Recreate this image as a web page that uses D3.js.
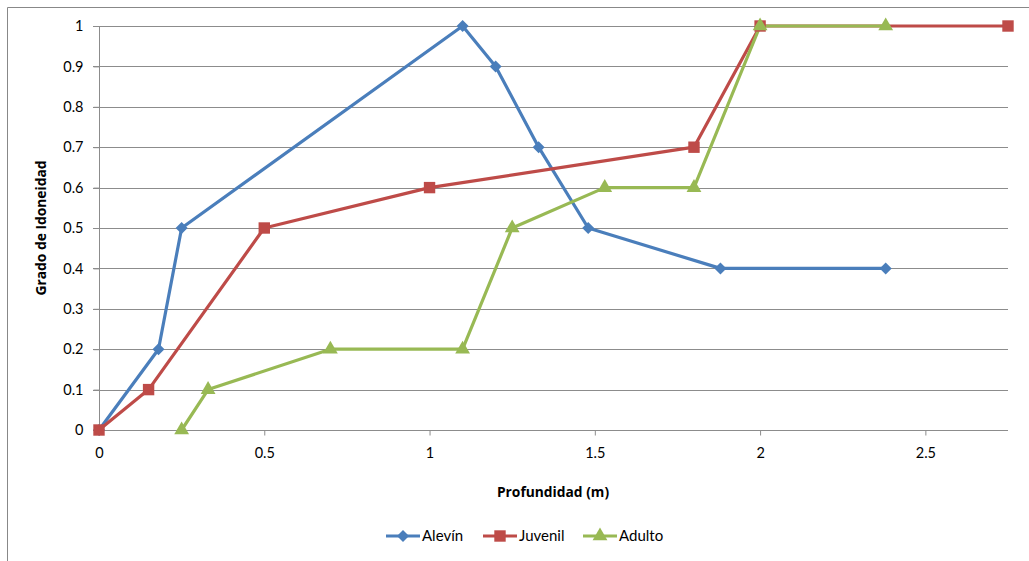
<!DOCTYPE html>
<html><head><meta charset="utf-8">
<script src="https://cdn.jsdelivr.net/npm/d3@7/dist/d3.min.js"></script>
<style>body{margin:0;background:#fff}svg{display:block;font-family:Lato,"Open Sans",sans-serif}</style>
</head><body><svg id="c" width="1029" height="561"></svg>
<script>
const xTicks=[0,0.5,1,1.5,2,2.5];
const yTicks=[0,0.1,0.2,0.3,0.4,0.5,0.6,0.7,0.8,0.9,1];
const seriesNames=["Alevín","Juvenil","Adulto"];
const alevinX=[0,0.18,0.25,1.1,1.2,1.33,1.48,1.88,2.38];
const alevinY=[0,0.2,0.5,1,0.9,0.7,0.5,0.4,0.4];
const juvenilX=[0,0.15,0.5,1,1.8,2,2.75];
const juvenilY=[0,0.1,0.5,0.6,0.7,1,1];
const adultoX=[0.25,0.33,0.7,1.1,1.25,1.53,1.8,2,2.38];
const adultoY=[0,0.1,0.2,0.2,0.5,0.6,0.6,1,1];
const colors=["#4A7EBB","#BE4B48","#98B954"];

const diamond={draw(ctx,size){const r=Math.sqrt(size/2);ctx.moveTo(0,-r);ctx.lineTo(r,0);ctx.lineTo(0,r);ctx.lineTo(-r,0);ctx.closePath();}};
const symbols=[diamond,d3.symbolSquare,d3.symbolTriangle];
const symSizes=[72,130,95];

const svg=d3.select("#c");
svg.append("path").attr("d","M7.5,561V7.5H1029").attr("fill","none").attr("stroke","#888").attr("stroke-width",1);
const x=d3.scaleLinear().domain([0,2.75]).range([99,1008]);
const y=d3.scaleLinear().domain([0,1]).range([430,26]);

svg.append("g").selectAll("line").data(yTicks.slice(1)).join("line")
 .attr("x1",93).attr("x2",1008).attr("y1",d=>Math.round(y(d))+0.5).attr("y2",d=>Math.round(y(d))+0.5)
 .attr("stroke","#8c8c8c").attr("stroke-width",1);
const ya=svg.append("g").attr("transform","translate(99.5,0)")
 .call(d3.axisLeft(y).tickValues(yTicks).tickFormat(d3.format("")).tickSize(6).tickPadding(10));
ya.select(".domain").attr("stroke","#8c8c8c").attr("d","M0,26.5V430");
ya.selectAll(".tick line").attr("stroke","#8c8c8c");
ya.selectAll("text").attr("font-size",14.5).attr("fill","#000").attr("font-family","Lato,'Open Sans',sans-serif");
const xa=svg.append("g").attr("transform","translate(0,430.5)")
 .call(d3.axisBottom(x).tickValues(xTicks).tickFormat(d3.format("")).tickSize(5).tickPadding(12));
xa.select(".domain").attr("stroke","#8c8c8c").attr("d","M93,0H1008");
xa.selectAll(".tick line").attr("stroke","#8c8c8c");
xa.selectAll("text").attr("font-size",14.5).attr("fill","#000").attr("font-family","Lato,'Open Sans',sans-serif");

const data=[d3.zip(alevinX,alevinY),d3.zip(juvenilX,juvenilY),d3.zip(adultoX,adultoY)];
const line=d3.line().x(d=>x(d[0])).y(d=>y(d[1]));
data.forEach((s,i)=>{
  svg.append("path").attr("d",line(s)).attr("fill","none").attr("stroke",colors[i]).attr("stroke-width",3.2).attr("stroke-linejoin","round");
});
data.forEach((s,i)=>{
  svg.selectAll(null).data(s).join("path")
   .attr("transform",d=>`translate(${x(d[0])},${y(d[1])})`)
   .attr("d",d3.symbol(symbols[i],symSizes[i])).attr("fill",colors[i]);
});
svg.append("text").attr("x",553).attr("y",497).attr("text-anchor","middle").attr("font-weight","bold").attr("font-size",13.8).attr("font-family","'Open Sans',sans-serif").text("Profundidad (m)");
svg.append("text").attr("transform","translate(46,228) rotate(-90)").attr("text-anchor","middle").attr("font-weight","bold").attr("font-size",13.8).attr("font-family","'Open Sans',sans-serif").text("Grado de Idoneidad");
const legX=[386,483,583];
seriesNames.forEach((n,i)=>{
  const lg=svg.append("g").attr("transform",`translate(${legX[i]},536)`);
  lg.append("line").attr("x1",0).attr("x2",34).attr("stroke",colors[i]).attr("stroke-width",3);
  lg.append("path").attr("transform","translate(17,0)").attr("d",d3.symbol(symbols[i],symSizes[i])).attr("fill",colors[i]);
  lg.append("text").attr("x",36).attr("y",5).attr("font-size",15).text(n);
});
</script></body></html>
